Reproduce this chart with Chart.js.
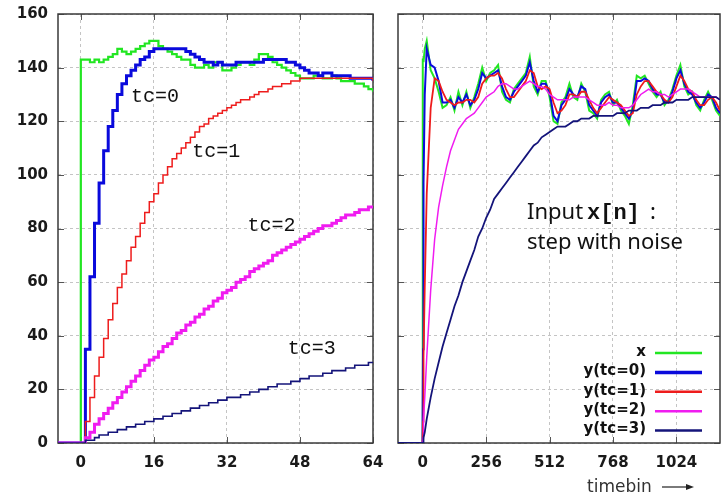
<!DOCTYPE html>
<html lang="en">
<head>
<meta charset="UTF-8">
<title>Step response of first-order filters</title>
<script src="https://cdn.jsdelivr.net/npm/chart.js"></script>
<style>
  body { margin: 0; background: #fff; }
  #wrap { position: relative; width: 725px; height: 497px; }
  canvas { position: absolute; top: 0; }
  #left { left: 0; }
  #right { left: 380px; }
</style>
</head>
<body>
<div id="wrap">
  <canvas id="left" width="400" height="497"></canvas>
  <canvas id="right" width="345" height="497"></canvas>
</div>
<script>
// ---- data ----
const seriesLabels = ['x', 'y(tc=0)', 'y(tc=1)', 'y(tc=2)', 'y(tc=3)'];
const seriesColors = ['#22e622', '#0a0adc', '#ee1c1c', '#f01cf0', '#14147a'];

const yTicks = [0, 20, 40, 60, 80, 100, 120, 140, 160];
const leftTicks = [0, 16, 32, 48, 64];
const rightTicks = [0, 256, 512, 768, 1024];

// left panel: timebins -5 .. 64
const leftN = [-5, -4, -3, -2, -1,
  0, 1, 2, 3, 4, 5, 6, 7, 8, 9, 10, 11, 12, 13, 14, 15, 16, 17, 18, 19,
  20, 21, 22, 23, 24, 25, 26, 27, 28, 29, 30, 31, 32, 33, 34, 35, 36, 37, 38, 39,
  40, 41, 42, 43, 44, 45, 46, 47, 48, 49, 50, 51, 52, 53, 54, 55, 56, 57, 58, 59,
  60, 61, 62, 63, 64];
const leftX = [0, 0, 0, 0, 0,
  143, 143, 142, 143, 142, 143, 144, 145, 147, 146,
  145, 146, 147, 148, 149, 150, 150, 148, 147, 146,
  145, 144, 143, 143, 141, 140, 140, 141, 140, 142,
  142, 139, 139, 140, 141, 142, 142, 141, 143, 145,
  145, 144, 142, 141, 140, 139, 138, 137, 136, 136,
  136, 137, 137, 136, 136, 137, 136, 135, 135, 135,
  134, 134, 133, 132, 131];
const leftTc0 = [0, 0, 0, 0, 0,
  0, 35, 62, 82, 97, 109, 118, 124, 130, 134,
  137, 139, 141, 143, 144, 146, 147, 147, 147, 147,
  147, 147, 147, 146, 145, 144, 143, 142, 142, 141,
  142, 141, 141, 141, 142, 142, 142, 142, 142, 142,
  143, 143, 143, 143, 143, 142, 142, 141, 140, 139,
  138, 138, 137, 138, 138, 137, 137, 137, 137, 136,
  136, 136, 136, 136, 135];
const leftTc1 = [0, 0, 0, 0, 0,
  0, 8, 17, 25, 32, 39, 46, 52, 58, 63,
  68, 73, 77, 82, 86, 90, 93, 97, 100, 103,
  106, 108, 110, 112, 114, 116, 118, 119, 121, 122,
  123, 124, 125, 126, 127, 128, 128, 129, 130, 131,
  131, 132, 133, 133, 134, 134, 135, 135, 136, 136,
  136, 136, 136, 136, 136, 136, 136, 136, 136, 136,
  136, 136, 136, 136, 135];
const leftTc2 = [0, 0, 0, 0, 0,
  0, 2, 4, 7, 9, 11, 13, 15, 17, 19,
  21, 23, 25, 27, 29, 31, 32, 34, 36, 37,
  39, 41, 42, 44, 45, 47, 48, 50, 51, 53,
  54, 56, 57, 58, 60, 61, 62, 64, 65, 66,
  67, 68, 70, 71, 72, 73, 74, 75, 76, 77,
  78, 79, 80, 81, 81, 82, 83, 84, 85, 85,
  86, 87, 87, 88, 88];
const leftTc3 = [0, 0, 0, 0, 0,
  0, 1, 1, 2, 3, 3, 4, 4, 5, 5,
  6, 6, 7, 7, 8, 8, 9, 9, 10, 10,
  11, 11, 12, 12, 13, 13, 14, 14, 15, 15,
  16, 16, 17, 17, 17, 18, 18, 19, 19, 20,
  20, 21, 21, 22, 22, 22, 23, 23, 24, 24,
  25, 25, 25, 26, 26, 27, 27, 27, 28, 28,
  29, 29, 29, 30, 30];

// right panel: timebins -100 .. 1200 (sampled)
const rightN = [-100, -1, 0, 1, 2, 4, 8,
  16, 32, 48, 64, 80, 96, 112, 128, 144, 160, 176, 192, 208, 224, 240, 256,
  272, 288, 304, 320, 336, 352, 368, 384, 400, 416, 432, 448, 464, 480, 496, 512,
  528, 544, 560, 576, 592, 608, 624, 640, 656, 672, 688, 704, 720, 736, 752, 768,
  784, 800, 816, 832, 848, 864, 880, 896, 912, 928, 944, 960, 976, 992, 1008, 1024,
  1040, 1056, 1072, 1088, 1104, 1120, 1136, 1152, 1168, 1184, 1200];
const rightX = [0, 0, 143, 143, 142, 142, 147,
  150, 139, 136, 131, 125, 126, 129, 124, 131, 126, 131, 125, 129, 134, 140, 135,
  138, 139, 141, 131, 128, 127, 132, 134, 136, 138, 144, 133, 130, 135, 135, 129,
  120, 119, 127, 129, 134, 129, 128, 134, 131, 124, 123, 121, 128, 130, 131, 126,
  128, 124, 122, 119, 126, 137, 136, 137, 134, 131, 129, 131, 126, 128, 132, 137,
  141, 133, 130, 131, 126, 124, 128, 131, 128, 124, 122];
const rightTc0 = [0, 0, 0, 35, 62, 97, 130,
  147, 141, 140, 135, 127, 127, 128, 125, 129, 127, 130, 126, 128, 132, 138, 136,
  137, 138, 139, 133, 129, 128, 131, 133, 135, 137, 142, 135, 131, 134, 134, 131,
  122, 120, 126, 128, 132, 130, 129, 133, 132, 126, 124, 122, 127, 129, 130, 127,
  127, 125, 123, 121, 124, 135, 135, 136, 135, 132, 130, 130, 127, 127, 131, 136,
  139, 134, 131, 130, 127, 125, 127, 130, 129, 125, 123];
const rightTc1 = [0, 0, 0, 8, 17, 32, 58,
  93, 125, 136, 135, 131, 128, 127, 126, 127, 127, 128, 128, 127, 129, 134, 136,
  137, 137, 138, 136, 132, 129, 129, 131, 133, 135, 139, 138, 133, 132, 133, 132,
  127, 123, 124, 126, 130, 130, 129, 131, 131, 128, 125, 123, 125, 127, 129, 128,
  127, 126, 124, 122, 123, 130, 133, 135, 135, 133, 131, 130, 128, 127, 129, 133,
  137, 135, 132, 131, 128, 126, 126, 128, 129, 127, 124];
const rightTc2 = [0, 0, 0, 2, 4, 9, 17,
  32, 57, 76, 88, 96, 103, 109, 113, 117, 119, 121, 122, 123, 125, 127, 129,
  130, 131, 133, 134, 134, 133, 132, 132, 133, 134, 135, 134, 133, 133, 132, 130,
  129, 128, 128, 128, 128, 129, 129, 129, 129, 128, 127, 126, 126, 126, 127, 126,
  126, 125, 125, 125, 126, 128, 130, 131, 132, 131, 131, 130, 130, 129, 130, 131,
  132, 132, 132, 131, 130, 129, 129, 129, 129, 129, 128];
const rightTc3 = [0, 0, 0, 0, 1, 2, 4,
  9, 17, 24, 30, 36, 41, 46, 51, 55, 60, 64, 68, 72, 77, 80, 84,
  87, 91, 93, 95, 97, 99, 101, 103, 105, 107, 109, 111, 112, 114, 115, 116,
  117, 118, 118, 118, 119, 120, 120, 121, 121, 121, 122, 122, 122, 122, 122, 122,
  123, 123, 123, 124, 124, 124, 125, 125, 125, 126, 126, 126, 127, 127, 127, 128,
  128, 128, 128, 129, 129, 129, 129, 129, 129, 129, 128];

// ---- helpers ----
Chart.defaults.font.family = '"DejaVu Sans", sans-serif';
Chart.defaults.color = '#1a1a1a';

function pts(ns, vs) {
  return ns.map((n, i) => ({ x: n, y: vs[i] }));
}

function makeSets(ns, lists, widths, stepped) {
  return lists.map((vs, i) => ({
    label: seriesLabels[i],
    data: pts(ns, vs),
    borderColor: seriesColors[i],
    backgroundColor: seriesColors[i],
    borderWidth: widths[i],
    pointRadius: 0,
    stepped: stepped,
    tension: 0,
    order: lists.length - i
  }));
}

// frame round the plot and small inward ticks (gnuplot look)
const framePlugin = {
  id: 'frame',
  beforeDatasetsDraw(chart) {
    const a = chart.chartArea, ctx = chart.ctx;
    const xs = chart.scales.x, ys = chart.scales.y;
    ctx.save();
    ctx.strokeStyle = '#555';
    ctx.lineWidth = 1;
    ctx.beginPath();
    xs.ticks.forEach(t => {
      const p = Math.round(xs.getPixelForValue(t.value)) + 0.5;
      ctx.moveTo(p, a.bottom); ctx.lineTo(p, a.bottom - 6);
      ctx.moveTo(p, a.top); ctx.lineTo(p, a.top + 6);
    });
    ys.ticks.forEach(t => {
      const p = Math.round(ys.getPixelForValue(t.value)) + 0.5;
      ctx.moveTo(a.left, p); ctx.lineTo(a.left + 6, p);
      ctx.moveTo(a.right, p); ctx.lineTo(a.right - 6, p);
    });
    ctx.stroke();
    ctx.strokeStyle = '#3a3a3a';
    ctx.lineWidth = 1.5;
    ctx.strokeRect(a.left, a.top, a.right - a.left, a.bottom - a.top);
    ctx.restore();
  }
};

function scalesFor(xMin, xMax, xTicks, yWidth, showY) {
  return {
    x: {
      type: 'linear', min: xMin, max: xMax,
      afterBuildTicks: s => { s.ticks = xTicks.map(v => ({ value: v })); },
      afterFit: s => { s.height = 54; s.paddingLeft = 0; s.paddingRight = 0; },
      grid: { color: '#c4c4c4', lineWidth: 1, drawTicks: false },
      border: { display: false, dash: [3, 3] },
      ticks: { padding: 11, maxRotation: 0, autoSkip: false,
        font: { size: 15, weight: 'bold' }, callback: v => String(v) }
    },
    y: {
      type: 'linear', min: 0, max: 160,
      afterBuildTicks: s => { s.ticks = yTicks.map(v => ({ value: v })); },
      afterFit: s => { s.width = yWidth; s.paddingTop = 0; s.paddingBottom = 0; },
      grid: { color: '#c4c4c4', lineWidth: 1, drawTicks: false },
      border: { display: false, dash: [3, 3] },
      ticks: { display: showY, padding: 10, font: { size: 15, weight: 'bold' },
        callback: v => String(v) }
    }
  };
}

// ---- left panel ----
const leftNotes = {
  id: 'leftNotes',
  afterDatasetsDraw(chart) {
    const { ctx, scales: { x, y } } = chart;
    ctx.save();
    ctx.font = '20px "Liberation Mono", monospace';
    ctx.fillStyle = '#111';
    ctx.textBaseline = 'middle';
    [['tc=0', 11, 129], ['tc=1', 24.4, 108.6], ['tc=2', 36.5, 81], ['tc=3', 45.3, 35.1]]
      .forEach(([t, n, v]) => ctx.fillText(t, x.getPixelForValue(n), y.getPixelForValue(v)));
    ctx.restore();
  }
};

new Chart(document.getElementById('left'), {
  type: 'line',
  data: { datasets: makeSets(leftN, [leftX, leftTc0, leftTc1, leftTc2, leftTc3], [2.2, 3, 1.5, 3, 1.6], true) },
  options: {
    responsive: false,
    animation: false,
    layout: { padding: { left: 0, right: 27, top: 14, bottom: 0 } },
    scales: scalesFor(-5, 64, leftTicks, 58, true),
    plugins: { legend: { display: false }, tooltip: { enabled: false } }
  },
  plugins: [framePlugin, leftNotes]
});

// ---- right panel ----
const rightNotes = {
  id: 'rightNotes',
  afterDatasetsDraw(chart) {
    const ctx = chart.ctx;
    const ox = -380; // canvas sits 380px in
    ctx.save();
    ctx.fillStyle = '#111';
    ctx.textBaseline = 'middle';
    // caption
    ctx.font = '22px "Noto Sans", sans-serif';
    ctx.fillText('Input', 527 + ox, 213);
    ctx.font = 'bold 22px "Liberation Mono", monospace';
    ctx.fillText('x[n]', 587 + ox, 213);
    ctx.font = '22px "Noto Sans", sans-serif';
    ctx.fillText(':', 650 + ox, 213);
    ctx.fillText('step with noise', 527 + ox, 243);

    // legend
    const widths = [2.5, 3.5, 2.5, 2.5, 2.5];
    ctx.font = 'bold 15px "DejaVu Sans", sans-serif';
    ctx.textAlign = 'right';
    chart.data.datasets.forEach((ds, i) => {
      const yy = 352 + i * 19.4;
      ctx.fillStyle = '#111';
      ctx.fillText(ds.label, 646 + ox, yy);
      ctx.strokeStyle = ds.borderColor;
      ctx.lineWidth = widths[i];
      ctx.beginPath();
      ctx.moveTo(655 + ox, yy + 1);
      ctx.lineTo(702 + ox, yy + 1);
      ctx.stroke();
    });

    // axis caption with arrow
    ctx.textAlign = 'left';
    ctx.fillStyle = '#333';
    ctx.font = '17px "DejaVu Sans", sans-serif';
    ctx.fillText('timebin', 587 + ox, 488);
    ctx.strokeStyle = '#222';
    ctx.lineWidth = 1.2;
    ctx.beginPath();
    ctx.moveTo(662 + ox, 487);
    ctx.lineTo(690 + ox, 487);
    ctx.stroke();
    ctx.fillStyle = '#222';
    ctx.beginPath();
    ctx.moveTo(694 + ox, 487);
    ctx.lineTo(686 + ox, 484);
    ctx.lineTo(686 + ox, 490);
    ctx.closePath();
    ctx.fill();
    ctx.restore();
  }
};

new Chart(document.getElementById('right'), {
  type: 'line',
  data: { datasets: makeSets(rightN, [rightX, rightTc0, rightTc1, rightTc2, rightTc3], [2, 2, 1.8, 1.5, 1.8], false) },
  options: {
    responsive: false,
    animation: false,
    layout: { padding: { left: 0, right: 5, top: 14, bottom: 0 } },
    scales: scalesFor(-100, 1200, rightTicks, 18, false),
    plugins: { legend: { display: false }, tooltip: { enabled: false } }
  },
  plugins: [framePlugin, rightNotes]
});
</script>
</body>
</html>
